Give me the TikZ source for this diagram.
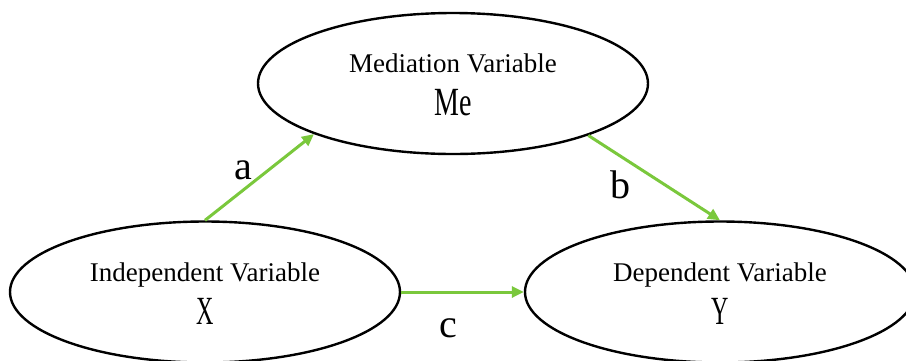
\documentclass[tikz,border=0pt]{standalone}
\usepackage{fontspec}
\setmainfont{Liberation Serif}
\usetikzlibrary{shapes.geometric,arrows.meta}
\definecolor{arrgreen}{RGB}{122,200,60}
\tikzset{
  varell/.style={draw=black, line width=2.4pt, ellipse, inner sep=0pt, minimum width=390pt, minimum height=141pt},
  vtitle/.style={anchor=base, inner sep=0pt, font=\fontsize{27}{30}\selectfont},
  vsym/.style={anchor=base, inner sep=0pt, font=\fontsize{40}{44}\selectfont},
  plabel/.style={anchor=base, inner sep=0pt, font=\fontsize{40}{44}\selectfont},
  garrow/.style={draw=arrgreen, line width=3pt, -{Triangle[length=12pt,width=11pt]}}
}
\begin{document}
\begin{tikzpicture}[x=1pt,y=-1pt]
\useasboundingbox (0,0) rectangle (906,360);
\clip (0,0) rectangle (906,360);
\node[varell] (me) at (453,83.5) {};
\node[varell] (x) at (205,292) {};
\node[varell] (y) at (720,292) {};
\node[vtitle] (metitle) at (453,72) {Mediation Variable};
\node[vsym] (mesym) at (453,115) {\scalebox{0.7}[1]{Me}};
\node[vtitle] (xtitle) at (205,281) {Independent Variable};
\node[vsym] (xsym) at (205,324) {\scalebox{0.6}[1]{X}};
\node[vtitle] (ytitle) at (720,281) {Dependent Variable};
\node[vsym] (ysym) at (720,324) {\scalebox{0.6}[1]{Y}};
\draw[garrow] (x.north) -- (me.200.7);
\draw[garrow] (me.339.3) -- (y.north);
\draw[garrow] (x.east) -- (y.west);
\node[plabel] (la) at (243,179) {a};
\node[plabel] (lb) at (620,198) {b};
\node[plabel] (lc) at (448,337) {c};
\end{tikzpicture}
\end{document}
